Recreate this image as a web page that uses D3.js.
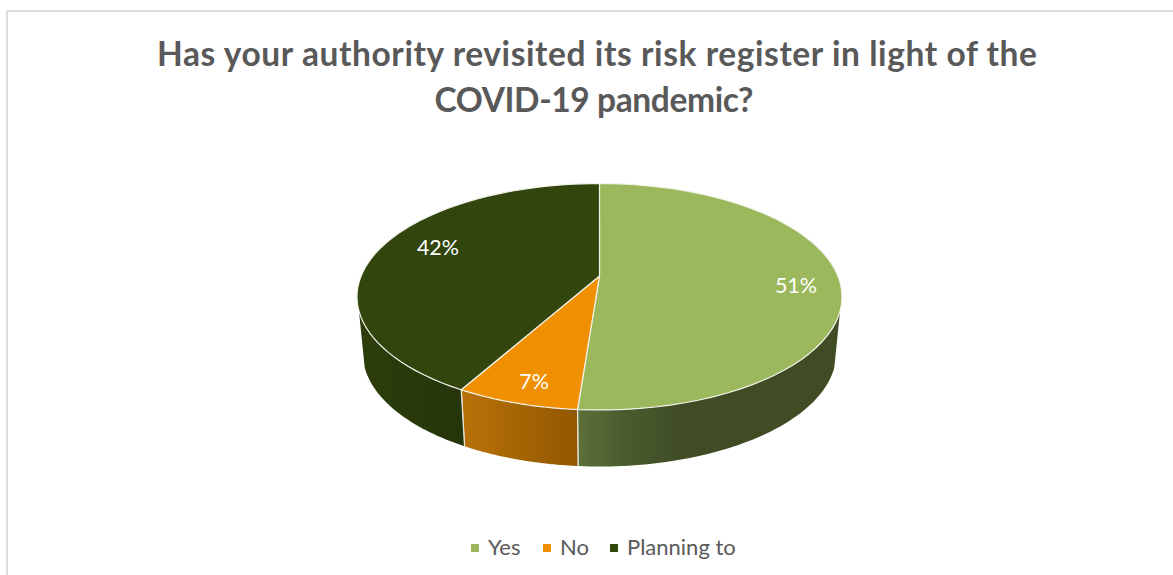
<!DOCTYPE html>
<html>
<head>
<meta charset="utf-8">
<script src="https://cdn.jsdelivr.net/npm/d3@7/dist/d3.min.js"></script>
<style>
html,body{margin:0;padding:0;background:#fff;overflow:hidden}
svg{display:block}
text{font-family:Lato,"Open Sans",sans-serif}
</style>
</head>
<body>
<div id="chart"></div>
<script>
const categories = ["Yes", "No", "Planning to"];
const values = [51.2, 6.9, 41.9];
const colors = ["#9BB85C", "#F09000", "#31450D"];
const wallStops = [
  [["#5C7038", 0], ["#4A5C2E", 0.45], ["#3F4C24", 1]],
  [["#B87208", 0], ["#925700", 1]],
  [["#2D3E0B", 0], ["#25350A", 1]]
];
const titleLines = ["Has your authority revisited its risk register in light of the", "COVID-19 pandemic?"];
const titleWidths = [880, 319];
const titleCentres = [597, 594];
const labelSpots = [[0.812, 0.081], [-0.233, 0.822], [-0.712, -0.278]];

const W = 1173, H = 575;
const svg = d3.select("#chart").append("svg").attr("width", W).attr("height", H);
svg.append("rect").attr("width", W).attr("height", H).attr("fill", "#fff");

// frame: top and left edges visible
svg.append("path").attr("d", `M7,${H} V11 H${W}`).attr("fill", "none").attr("stroke", "#DEDEDE").attr("stroke-width", 2);

// title
svg.append("g").selectAll("text").data(titleLines).join("text")
  .attr("x", (d, i) => titleCentres[i]).attr("y", (d, i) => 66 + i * 46)
  .attr("text-anchor", "middle").attr("font-weight", 700).attr("font-size", 33.5)
  .attr("textLength", (d, i) => titleWidths[i]).attr("lengthAdjust", "spacing")
  .attr("fill", "#595959").text(d => d);

// perspective projection of the unit disc
const cx = 599.5, apexY = 276, k = 0.1832, A = 238.4, B = 109.45, depth = 56.5, shrink = 0.976;
const topPt = (u, v) => { const w = 1 - k * v; return [cx + A * u / w, apexY + B * v / w]; };
const bottomPt = (u, v) => { const p = topPt(u, v); return [cx + (p[0] - cx) * shrink, p[1] + depth]; };
const disc = t => [Math.sin(t), -Math.cos(t)];
const line = d3.line();

const pie = d3.pie().sort(null).value(d => d);
const arcs = pie(values);
const samples = (a0, a1) => d3.range(0, 61).map(i => a0 + (a1 - a0) * i / 60);

const defs = svg.append("defs");
const wallFrom = 107.6 * Math.PI / 180, wallTo = 252.4 * Math.PI / 180;

// side walls
const gWall = svg.append("g");
arcs.forEach((a, i) => {
  const a0 = Math.max(a.startAngle, wallFrom), a1 = Math.min(a.endAngle, wallTo);
  if (a1 <= a0) return;
  const ts = samples(a0, a1);
  const t = ts.map(x => topPt(...disc(x)));
  const b = ts.map(x => bottomPt(...disc(x)));
  const xs = t.concat(b).map(p => p[0]);
  const grad = defs.append("linearGradient").attr("id", "wall" + i)
    .attr("gradientUnits", "userSpaceOnUse")
    .attr("x1", d3.min(xs)).attr("x2", i === 0 ? d3.min(xs) + 105 : d3.max(xs))
    .attr("y1", 0).attr("y2", 0);
  grad.selectAll("stop").data(wallStops[i]).join("stop")
    .attr("offset", d => d[1]).attr("stop-color", d => d[0]);
  gWall.append("path")
    .attr("d", line(t.concat(b.slice().reverse())) + "Z")
    .attr("fill", `url(#wall${i})`);
  // white seams at visible slice boundaries on the wall
  [a.startAngle, a.endAngle].forEach(x => {
    if (x > wallFrom && x < wallTo) {
      gWall.append("path").attr("d", line([topPt(...disc(x)), bottomPt(...disc(x))]))
        .attr("stroke", "#E8E8E0").attr("stroke-width", 1.2).attr("fill", "none");
    }
  });
});

// top faces
const gTop = svg.append("g");
arcs.forEach((a, i) => {
  const pts = samples(a.startAngle, a.endAngle).map(x => topPt(...disc(x)));
  gTop.append("path")
    .attr("d", line([topPt(0, 0), ...pts]) + "Z")
    .attr("fill", colors[i]).attr("stroke", "#F2F2EA").attr("stroke-width", 1.2)
    .attr("stroke-linejoin", "round");
});

// data labels
svg.append("g").selectAll("text").data(arcs).join("text")
  .attr("x", (d, i) => topPt(...labelSpots[i])[0])
  .attr("y", (d, i) => topPt(...labelSpots[i])[1])
  .attr("dy", "0.35em").attr("text-anchor", "middle")
  .attr("font-size", 21.5).attr("fill", "#fff")
  .text(d => d3.format(".0f")(d.value) + "%");

// legend
const legendSquareX = [471, 543, 610];
const legend = svg.append("g").selectAll("g").data(categories).join("g")
  .attr("transform", (d, i) => `translate(${legendSquareX[i]},544)`);
legend.append("rect").attr("width", 8).attr("height", 8).attr("fill", (d, i) => colors[i]);
legend.append("text").attr("x", 17).attr("y", 11).attr("font-size", 22).attr("fill", "#595959").text(d => d);
</script>
</body>
</html>
